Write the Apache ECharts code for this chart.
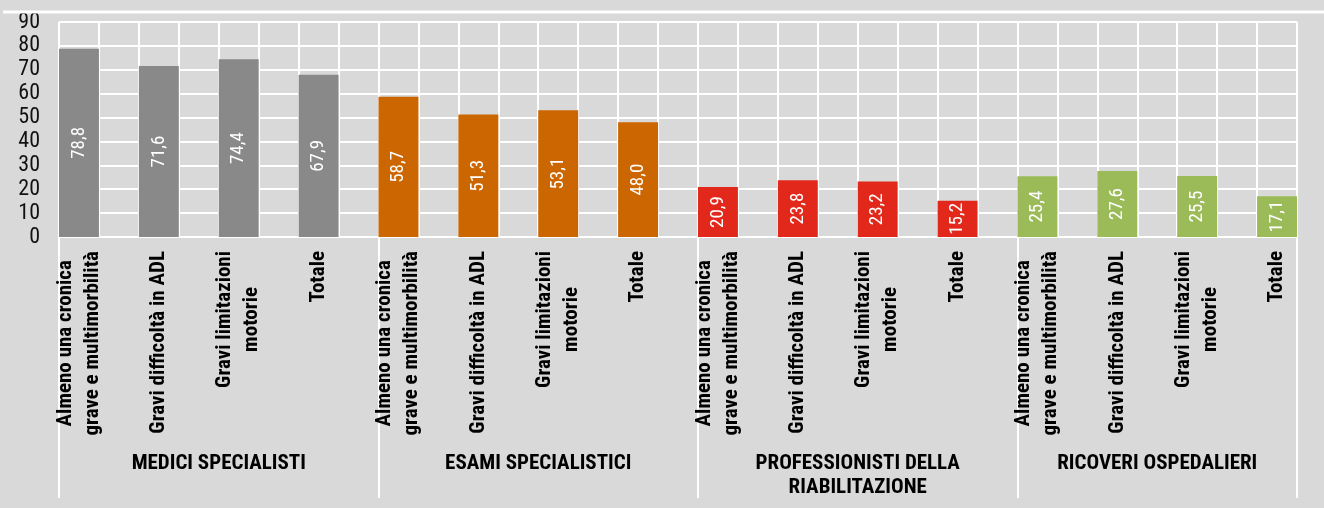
<!DOCTYPE html>
<html><head><meta charset="utf-8">
<script src="https://cdn.jsdelivr.net/npm/echarts@6/dist/echarts.min.js"></script>
<style>html,body{margin:0;padding:0;background:#d9d9d9}#c{width:1324px;height:508px}</style>
</head><body><div id="c"></div>
<script>
// ---- data ----
const groups = ['MEDICI SPECIALISTI', 'ESAMI SPECIALISTICI', 'PROFESSIONISTI DELLA\nRIABILITAZIONE', 'RICOVERI OSPEDALIERI'];
const categories = ['Almeno una cronica\ngrave e multimorbilità', 'Gravi difficoltà in ADL', 'Gravi limitazioni\nmotorie', 'Totale'];
const mediciSpecialisti = [78.8, 71.6, 74.4, 67.9];
const esamiSpecialistici = [58.7, 51.3, 53.1, 48.0];
const professionistiRiabilitazione = [20.9, 23.8, 23.2, 15.2];
const ricoveriOspedalieri = [25.4, 27.6, 25.5, 17.1];
const yMin = 0, yMax = 90, yStep = 10;

// ---- styles ----
const groupValues = [mediciSpecialisti, esamiSpecialistici, professionistiRiabilitazione, ricoveriOspedalieri];
const groupColors = ['#898989', '#CC6600', '#E2271B', '#9BBB59'];
const FONT = 'Roboto, "Liberation Sans", sans-serif';
const BOLD_NARROW = 'bold condensed';
const NARROW = 'condensed';
const WHITE = '#ffffff';

// each category = one bar slot + one empty slot (the last empty slot falls outside the picture)
const slots = [];
groupValues.forEach((vals, g) => vals.forEach((v, k) => { slots.push({g, k, v}); slots.push(null); }));
slots.pop();
const slotKeys = slots.map((s, i) => 's' + i);
const barData = slots.map(s => s ? {value: s.v, itemStyle: {color: groupColors[s.g]}} : '-');

// group label positions (centre of each group's visible span)
const groupLabelAt = {};
groups.forEach((name, g) => {
  const start = slots.findIndex(s => s && s.g === g);
  const nextStart = g < groups.length - 1 ? slots.findIndex(s => s && s.g === g + 1) : slots.length;
  const centre = (start + nextStart - 1) / 2;
  groupLabelAt[Math.floor(centre)] = {g, half: centre % 1 !== 0};
});

const chart = echarts.init(document.getElementById('c'), null, {renderer: 'canvas'});
chart.setOption({
  backgroundColor: '#d9d9d9',
  animation: false,
  grid: {left: 59, right: 27, top: 22, bottom: 271, outerBoundsMode: 'none', containLabel: false},
  graphic: [{type: 'line', shape: {x1: 3, y1: 12, x2: 1324, y2: 12}, style: {stroke: WHITE, lineWidth: 3}, z: 10}],
  xAxis: [{
    type: 'category', data: slotKeys, position: 'bottom',
    axisLine: {show: true, lineStyle: {color: WHITE, width: 2}},
    axisTick: {show: true, length: 261, interval: (i) => !!(slots[i] && slots[i].k === 0), lineStyle: {color: WHITE, width: 2}},
    splitLine: {show: true, interval: 0, lineStyle: {color: WHITE, width: 2}},
    axisLabel: {
      interval: 0, rotate: 90, margin: 14, hideOverlap: false,
      formatter: (v, i) => slots[i] ? categories[slots[i].k].split('\n').map(l => '{c|' + l + '}').join('\n') : '',
      rich: {c: {align: 'center', fontFamily: FONT, fontSize: 21, fontWeight: BOLD_NARROW, lineHeight: 27, color: '#000'}}
    }
  }, {
    type: 'category', data: slotKeys, position: 'bottom',
    axisLine: {show: false}, axisTick: {show: false}, splitLine: {show: false},
    axisLabel: {
      interval: 0, margin: 215, hideOverlap: false,
      formatter: (v, i) => {
        const gl = groupLabelAt[i];
        if (!gl) return '';
        const st = gl.half ? 'g' : 'h';
        return groups[gl.g].split('\n').map(l => '{' + st + '|' + l + '}').join('\n');
      },
      rich: {
        g: {align: 'center', padding: [0, 0, 0, 40], fontFamily: FONT, fontSize: 21, fontWeight: BOLD_NARROW, lineHeight: 24, color: '#000'},
        h: {align: 'center', fontFamily: FONT, fontSize: 21, fontWeight: BOLD_NARROW, lineHeight: 24, color: '#000'}
      }
    }
  }],
  yAxis: {
    type: 'value', min: yMin, max: yMax, interval: yStep,
    axisLine: {show: false}, axisTick: {show: false},
    splitLine: {show: true, lineStyle: {color: WHITE, width: 2}},
    axisLabel: {margin: 19, fontSize: 22, fontFamily: FONT, fontWeight: NARROW, color: '#111'}
  },
  series: [{
    type: 'bar', xAxisIndex: 0, data: barData, barCategoryGap: '0%', barWidth: '100%',
    label: {
      show: true, position: 'inside', rotate: 90, color: '#fff', fontSize: 19, fontFamily: FONT,
      fontWeight: NARROW, textBorderWidth: 0,
      formatter: p => p.value.toFixed(1).replace('.', ',')
    }
  }]
});
</script></body></html>
